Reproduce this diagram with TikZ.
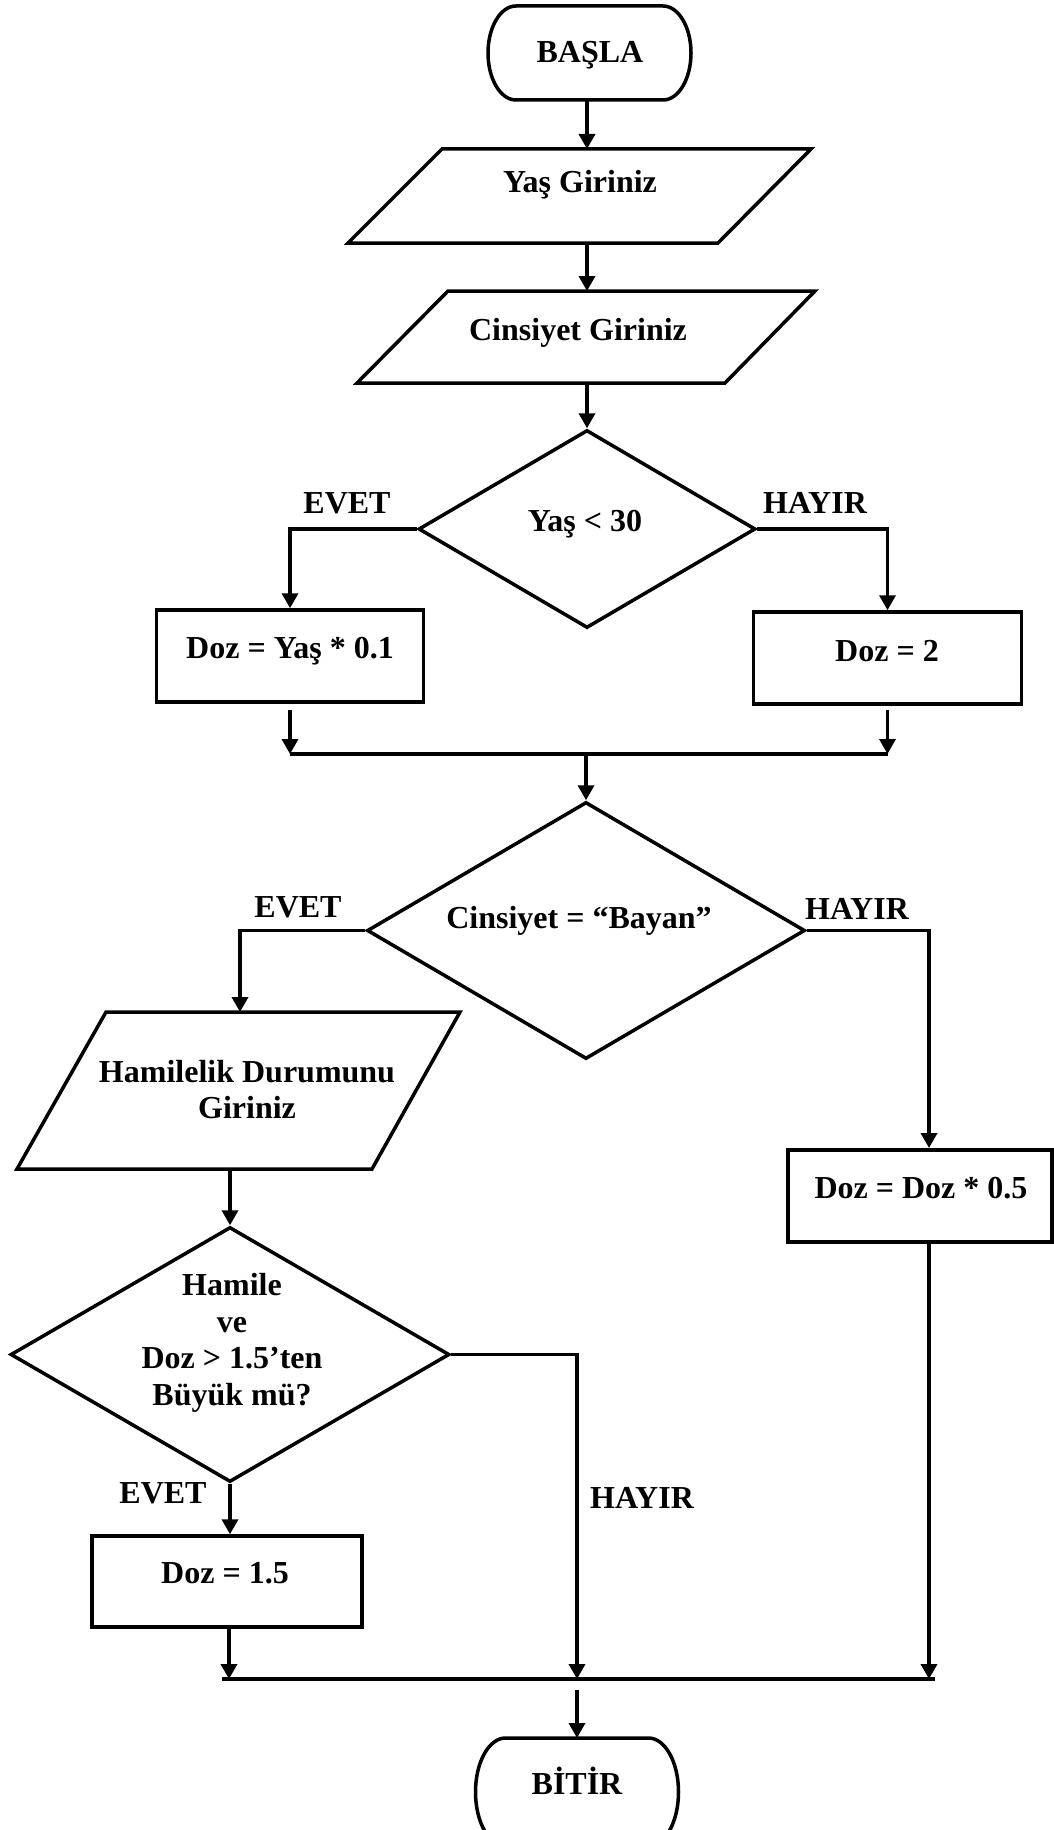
\documentclass[tikz,border=0pt]{standalone}
\usepackage{fontspec}
\setmainfont{Liberation Serif}
\usetikzlibrary{shapes.geometric,arrows.meta}
\begin{document}
\begin{tikzpicture}[x=1pt,y=-1pt,
  shp/.style={draw, line width=3.5pt},
  term/.style={rectangle, inner sep=0pt, outer sep=0pt},
  proc/.style={shp, rectangle, inner sep=0pt},
  dec/.style={shp, diamond, inner sep=0pt},
  txt/.style={anchor=base, inner sep=0pt, font=\bfseries\fontsize{32}{36}\selectfont},
  conn/.style={line width=3.5pt},
  arr/.style={conn, -{Triangle[length=15pt,width=16pt]}},
  merge/.style={line width=3.8pt}
]
\useasboundingbox (0,0) rectangle (1054,1830);
\clip (0,0) rectangle (1054,1830);

% start terminal
\node[term, minimum width=203pt, minimum height=94pt] (start) at (589.5,53) {};
\draw[shp] ([xshift=28pt]start.north west) -- ([xshift=-28pt]start.north east)
  arc[start angle=90,end angle=-90,x radius=28pt,y radius=47pt]
  -- ([xshift=28pt]start.south west)
  arc[start angle=270,end angle=90,x radius=28pt,y radius=47pt] -- cycle;
\node[txt] (t0) at (590,63) {BAŞLA};

% Yas Giriniz
\coordinate (p1top) at (587,149);
\coordinate (p1bot) at (587,243);
\draw[shp] (442,149) -- (811,149) -- (718,243) -- (348,243) -- cycle;
\node[txt] (t1) at (580,193) {Yaş Giriniz};

% Cinsiyet Giriniz
\coordinate (p2top) at (587,291);
\coordinate (p2bot) at (587,383);
\draw[shp] (448,291) -- (815,291) -- (725,383) -- (357,383) -- cycle;
\node[txt] (t2) at (578,340) {Cinsiyet Giriniz};

% decision 1
\node[dec, minimum width=337pt, minimum height=198pt] (d1) at (587,529) {};
\node[txt] (t3) at (585,531) {Yaş < 30};
\node[txt] (e1) at (347,513) {EVET};
\node[txt] (h1) at (815,513) {HAYIR};
\node[proc, minimum width=267pt, minimum height=92pt] (b1) at (290,656) {};
\node[txt] (t4) at (290,658) {Doz = Yaş * 0.1};
\node[proc, minimum width=268pt, minimum height=92pt] (b2) at (887.5,658) {};
\node[txt] (t5) at (887,661) {Doz = 2};
\coordinate (m1L) at (290,754);
\coordinate (m1R) at (887.5,754);
\coordinate (m1C) at (586,754);

% decision 2
\node[dec, minimum width=438pt, minimum height=257pt] (d2) at (586,930.5) {};
\node[txt] (t6) at (579,928) {Cinsiyet = “Bayan”};
\node[txt] (e2) at (298,917) {EVET};
\node[txt] (h2) at (857,919) {HAYIR};

% Hamilelik parallelogram
\coordinate (p3top) at (240,1012);
\coordinate (p3bot) at (230,1169);
\draw[shp] (106,1012) -- (460,1012) -- (372,1169) -- (17,1169) -- cycle;
\node[txt] (t7a) at (247,1082) {Hamilelik Durumunu};
\node[txt] (t7b) at (247,1118) {Giriniz};

% box 3
\node[proc, minimum width=264pt, minimum height=92pt] (b3) at (920,1196) {};
\node[txt] (t8) at (921,1198) {Doz = Doz * 0.5};
\coordinate (b3in) at (929,1148);
\coordinate (b3out) at (929,1242);

% decision 3
\node[dec, minimum width=439pt, minimum height=255pt] (d3) at (230,1354.5) {};
\node[txt] (t9a) at (232,1295) {Hamile};
\node[txt] (t9b) at (232,1332) {ve};
\node[txt] (t9c) at (232,1368) {Doz > 1.5’ten};
\node[txt] (t9d) at (232,1405) {Büyük mü?};
\node[txt] (e3) at (163,1503) {EVET};
\node[txt] (h3) at (642,1508) {HAYIR};
\node[proc, minimum width=270pt, minimum height=91pt] (b4) at (227,1581.5) {};
\node[txt] (t10) at (225,1583) {Doz = 1.5};

\coordinate (m2L) at (222,1679);
\coordinate (m2R) at (935,1679);
\coordinate (m2A) at (229,1679);
\coordinate (m2B) at (577,1679);
\coordinate (m2C) at (929,1679);

% end terminal
\node[term, minimum width=203pt, minimum height=108pt] (end) at (577,1792) {};
\draw[shp] ([xshift=30pt]end.north west) -- ([xshift=-30pt]end.north east)
  arc[start angle=90,end angle=-90,x radius=30pt,y radius=54pt]
  -- ([xshift=30pt]end.south west)
  arc[start angle=270,end angle=90,x radius=30pt,y radius=54pt] -- cycle;
\node[txt] (t11) at (577,1794) {BİTİR};

% connectors
\draw[arr] (start.south -| p1top) -- (p1top);
\draw[arr] (p1bot) -- (p2top);
\draw[arr] (p2bot) -- (d1.north);
\draw[arr] (d1.west) -| (b1.north);
\draw[arr] (d1.east) -| (b2.north);
\draw[arr] ([yshift=-6pt]b1.south) -- (m1L);
\draw[arr] ([yshift=-4pt]b2.south) -- (m1R);
\draw[merge] (m1L) -- (m1R);
\draw[arr] (m1C) -- (d2.north);
\draw[arr] (d2.west) -| (p3top);
\draw[arr] (d2.east) -| (b3in);
\draw[arr] (p3bot) -- (d3.north);
\draw[arr] (d3.south) -- (d3.south |- b4.north);
\draw[arr] (m2A |- b4.south) -- (m2A);
\draw[arr] (d3.east) -| (m2B);
\draw[arr] (b3out) -- (m2C);
\draw[merge] (m2L) -- (m2R);
\draw[arr] ([yshift=-11pt]m2B) -- (end.north);
\end{tikzpicture}
\end{document}
